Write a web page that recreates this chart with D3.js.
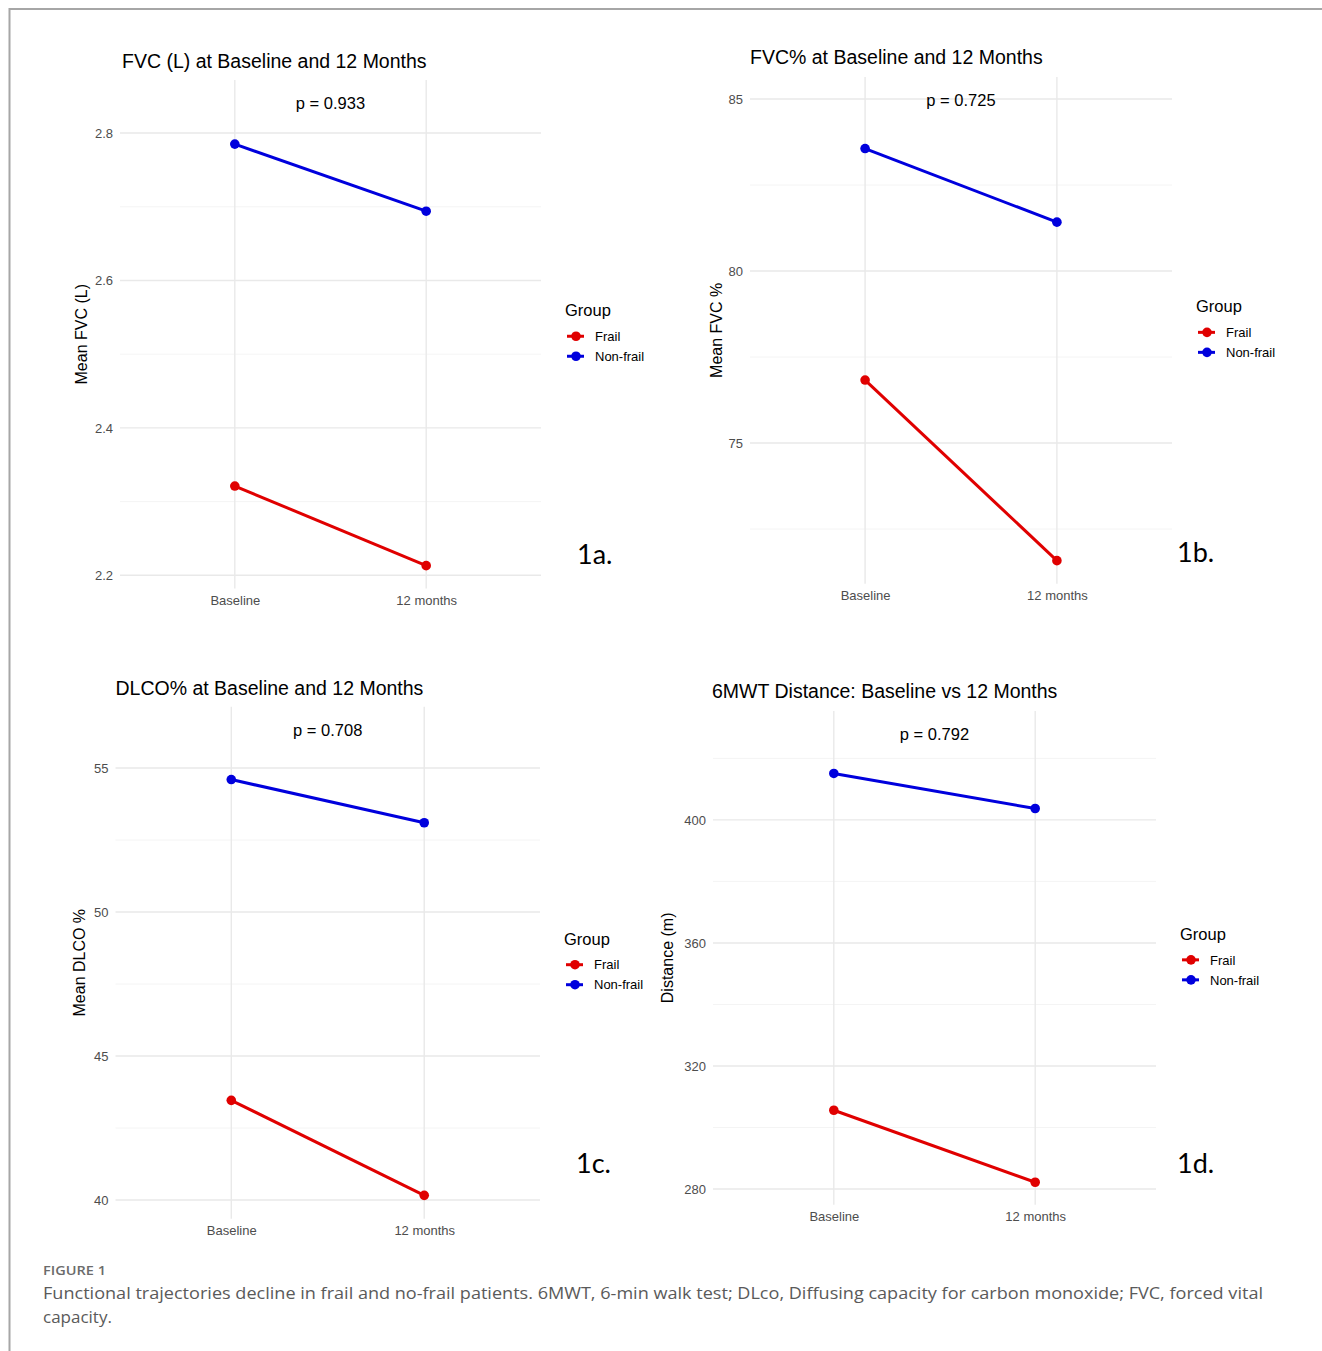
<!DOCTYPE html>
<html>
<head>
<meta charset="utf-8">
<script src="https://cdn.jsdelivr.net/npm/d3@7"></script>
<style>
	body { margin: 0; background: #fff; }
	svg { display: block; }
</style>
</head>
<body>
<svg id="figure" width="1322" height="1351"></svg>
<script>

// ---- data ----
const timepoints = ["Baseline", "12 months"];
const groups = ["Frail", "Non-frail"];

const fvcL_frail = [2.321, 2.213];
const fvcL_nonfrail = [2.785, 2.694];
const fvcPct_frail = [76.83, 71.58];
const fvcPct_nonfrail = [83.56, 81.42];
const dlco_frail = [43.46, 40.16];
const dlco_nonfrail = [54.60, 53.10];
const mwt_frail = [305.6, 282.2];
const mwt_nonfrail = [415.1, 403.7];

const fvcL_ticks = [2.2, 2.4, 2.6, 2.8];
const fvcPct_ticks = [75, 80, 85];
const dlco_ticks = [40, 45, 50, 55];
const mwt_ticks = [280, 320, 360, 400];

const titles = ["FVC (L) at Baseline and 12 Months", "FVC% at Baseline and 12 Months",
	"DLCO% at Baseline and 12 Months", "6MWT Distance: Baseline vs 12 Months"];
const yLabels = ["Mean FVC (L)", "Mean FVC %", "Mean DLCO %", "Distance (m)"];
const pValues = ["p = 0.933", "p = 0.725", "p = 0.708", "p = 0.792"];
const panelTags = ["1a.", "1b.", "1c.", "1d."];

const groupColors = {"Frail": "#e00000", "Non-frail": "#0000dd"};

// panel layout (pixel frames + y domain like ggplot's expanded range)
const panels = [
	{series: [fvcL_frail, fvcL_nonfrail], ticks: fvcL_ticks, fmt: d3.format(".1f"),
	 left: 120, right: 541, top: 80, bottom: 588.5, yDomain: [2.182, 2.872],
	 titleX: 122, titleY: 68, yLabelX: 81, tagX: 577, tagY: 564},
	{series: [fvcPct_frail, fvcPct_nonfrail], ticks: fvcPct_ticks, fmt: d3.format("d"),
	 left: 750, right: 1172, top: 77, bottom: 583.7, yDomain: [70.91, 85.64],
	 titleX: 750, titleY: 64, yLabelX: 716, tagX: 1177, tagY: 562},
	{series: [dlco_frail, dlco_nonfrail], ticks: dlco_ticks, fmt: d3.format("d"),
	 left: 115.5, right: 540, top: 706.7, bottom: 1218.7, yDomain: [39.35, 57.13],
	 titleX: 115.5, titleY: 695, yLabelX: 79, tagX: 576, tagY: 1173},
	{series: [mwt_frail, mwt_nonfrail], ticks: mwt_ticks, fmt: d3.format("d"),
	 left: 713, right: 1156, top: 711, bottom: 1204.7, yDomain: [274.9, 435.4],
	 titleX: 712, titleY: 698, yLabelX: 667, tagX: 1177, tagY: 1173}
];

const svg = d3.select("#figure");
const FONT = "'Liberation Sans', Arial, Helvetica, sans-serif";

// figure frame (top and left rules)
svg.append("line").attr("x1", 9).attr("x2", 1322).attr("y1", 9).attr("y2", 9)
	.attr("stroke", "#a6a6a6").attr("stroke-width", 2);
svg.append("line").attr("x1", 9.5).attr("x2", 9.5).attr("y1", 8).attr("y2", 1351)
	.attr("stroke", "#a6a6a6").attr("stroke-width", 2);

function drawPanel(p, i) {
	const g = svg.append("g");

	const x = d3.scalePoint().domain(timepoints).range([p.left, p.right]).padding(0.6);
	const y = d3.scaleLinear().domain(p.yDomain).range([p.bottom, p.top]);

	// minor gridlines halfway between the major ticks
	const step = p.ticks[1] - p.ticks[0];
	const minor = [p.ticks[0] - step / 2].concat(p.ticks.map(t => t + step / 2))
		.filter(v => v >= p.yDomain[0] && v <= p.yDomain[1]);

	g.selectAll(".minor").data(minor).enter().append("line")
		.attr("x1", p.left).attr("x2", p.right)
		.attr("y1", d => y(d)).attr("y2", d => y(d))
		.attr("stroke", "#f1f1f1").attr("stroke-width", 0.8);

	g.selectAll(".major").data(p.ticks).enter().append("line")
		.attr("x1", p.left).attr("x2", p.right)
		.attr("y1", d => y(d)).attr("y2", d => y(d))
		.attr("stroke", "#e9e9e9").attr("stroke-width", 1.4);

	g.selectAll(".vgrid").data(timepoints).enter().append("line")
		.attr("x1", d => x(d)).attr("x2", d => x(d))
		.attr("y1", p.top).attr("y2", p.bottom)
		.attr("stroke", "#e9e9e9").attr("stroke-width", 1.4);

	// y axis (text only, ggplot minimal theme)
	const yAxis = d3.axisLeft(y).tickValues(p.ticks).tickFormat(p.fmt).tickSize(0).tickPadding(7);
	const ya = g.append("g").attr("transform", `translate(${p.left},0)`).call(yAxis);
	ya.select(".domain").remove();
	ya.selectAll("text").attr("fill", "#4d4d4d").style("font-family", FONT).style("font-size", "13px");

	const xAxis = d3.axisBottom(x).tickSize(0).tickPadding(7);
	const xa = g.append("g").attr("transform", `translate(0,${p.bottom})`).call(xAxis);
	xa.select(".domain").remove();
	xa.selectAll("text").attr("fill", "#4d4d4d").style("font-family", FONT).style("font-size", "13px");

	// lines + points
	const line = d3.line().x((d, j) => x(timepoints[j])).y(d => y(d));
	p.series.forEach((vals, k) => {
		const col = groupColors[groups[k]];
		g.append("path").datum(vals).attr("d", line)
			.attr("fill", "none").attr("stroke", col).attr("stroke-width", 3);
		g.selectAll(".pt" + k).data(vals).enter().append("circle")
			.attr("cx", (d, j) => x(timepoints[j])).attr("cy", d => y(d))
			.attr("r", 4.8).attr("fill", col);
	});

	// title, p-value, y label
	g.append("text").attr("x", p.titleX).attr("y", p.titleY)
		.style("font-family", FONT).style("font-size", "19.5px").attr("fill", "#000")
		.text(titles[i]);

	g.append("text").attr("x", (x(timepoints[0]) + x(timepoints[1])) / 2).attr("y", p.top + 23)
		.attr("dy", "0.36em").attr("text-anchor", "middle")
		.style("font-family", FONT).style("font-size", "16.5px").attr("fill", "#000")
		.text(pValues[i]);

	const mid = (p.top + p.bottom) / 2;
	g.append("text").attr("transform", `translate(${p.yLabelX},${mid}) rotate(-90)`)
		.attr("dy", "0.36em").attr("text-anchor", "middle")
		.style("font-family", FONT).style("font-size", "16px").attr("fill", "#000")
		.text(yLabels[i]);

	// legend
	const lx = p.right + 24;
	g.append("text").attr("x", lx).attr("y", mid - 24).attr("dy", "0.36em")
		.style("font-family", FONT).style("font-size", "16.5px").attr("fill", "#000")
		.text("Group");
	groups.forEach((grp, k) => {
		const ly = mid + 2 + k * 20;
		g.append("line").attr("x1", lx + 2).attr("x2", lx + 19).attr("y1", ly).attr("y2", ly)
			.attr("stroke", groupColors[grp]).attr("stroke-width", 3);
		g.append("circle").attr("cx", lx + 11).attr("cy", ly).attr("r", 4.8).attr("fill", groupColors[grp]);
		g.append("text").attr("x", lx + 30).attr("y", ly).attr("dy", "0.36em")
			.style("font-family", FONT).style("font-size", "13px").attr("fill", "#000")
			.text(grp);
	});

	// panel tag
	g.append("text").attr("x", p.tagX).attr("y", p.tagY)
		.style("font-family", "Lato, 'Open Sans', sans-serif").style("font-size", "27px").attr("fill", "#000")
		.text(panelTags[i]);
}

panels.forEach(drawPanel);

// caption
const CAP = "'Open Sans', 'Noto Sans', sans-serif";
svg.append("text").attr("x", 43).attr("y", 1275)
	.style("font-family", CAP).style("font-size", "12.5px").style("font-weight", 600)
	.attr("fill", "#6b6b6b").attr("textLength", 63).attr("lengthAdjust", "spacingAndGlyphs")
	.text("FIGURE 1");
svg.append("text").attr("x", 43).attr("y", 1299)
	.style("font-family", CAP).style("font-size", "17px").attr("fill", "#5a5a5a")
	.attr("textLength", 1220).attr("lengthAdjust", "spacingAndGlyphs")
	.text("Functional trajectories decline in frail and no-frail patients. 6MWT, 6-min walk test; DLco, Diffusing capacity for carbon monoxide; FVC, forced vital");
svg.append("text").attr("x", 43).attr("y", 1323)
	.style("font-family", CAP).style("font-size", "17px").attr("fill", "#5a5a5a")
	.text("capacity.");

</script>
</body>
</html>
